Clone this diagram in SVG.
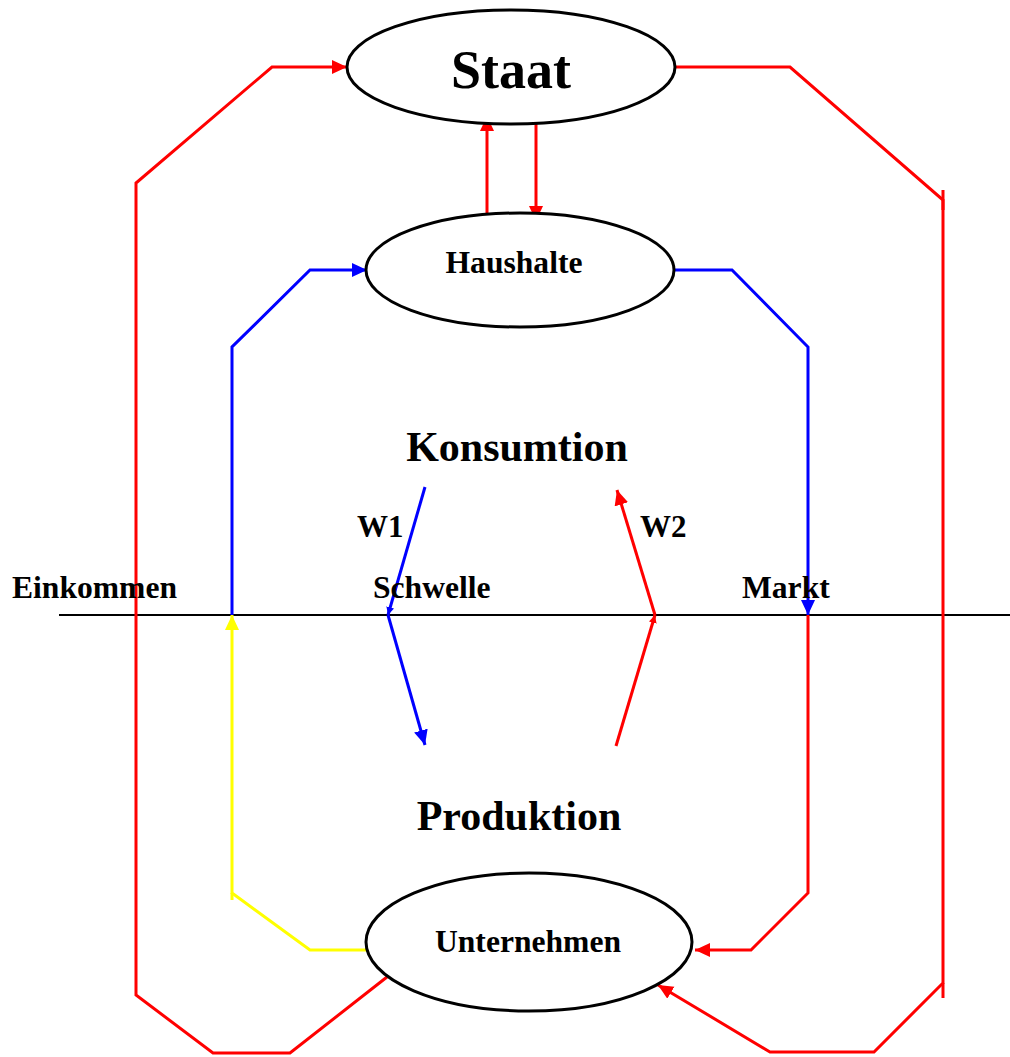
<svg xmlns="http://www.w3.org/2000/svg" width="1010" height="1057" viewBox="0 0 1010 1057">
<defs>
<style>
text{font-family:"Liberation Serif","Times New Roman",serif;font-weight:bold;fill:#000}
.node{fill:#fff;stroke:#000;stroke-width:3}
.r{fill:none;stroke:#f00;stroke-width:3;stroke-linejoin:miter}
.b{fill:none;stroke:#00f;stroke-width:3}
.y{fill:none;stroke:#ff0;stroke-width:3}
</style>
<marker id="ar" markerUnits="userSpaceOnUse" markerWidth="18" markerHeight="16" refX="15" refY="7" orient="auto"><path d="M0,0 L15,7 L0,14 Z" fill="#f00"/></marker>
<marker id="ab" markerUnits="userSpaceOnUse" markerWidth="18" markerHeight="16" refX="15" refY="7" orient="auto"><path d="M0,0 L15,7 L0,14 Z" fill="#00f"/></marker>
<marker id="ay" markerUnits="userSpaceOnUse" markerWidth="18" markerHeight="16" refX="15" refY="7" orient="auto"><path d="M0,0 L15,7 L0,14 Z" fill="#ff0"/></marker>
<marker id="abs" markerUnits="userSpaceOnUse" markerWidth="10" markerHeight="10" refX="8" refY="4" orient="auto"><path d="M0,0 L8,4 L0,8 Z" fill="#00f"/></marker>
<marker id="ars" markerUnits="userSpaceOnUse" markerWidth="10" markerHeight="10" refX="8" refY="4" orient="auto"><path d="M0,0 L8,4 L0,8 Z" fill="#f00"/></marker>
</defs>
<rect width="1010" height="1057" fill="#fff"/>
<line x1="59" y1="615" x2="1010" y2="615" stroke="#000" stroke-width="2"/>
<g id="connectors">
<polyline class="r" points="387,977 290,1053 213,1053 136,995 136,183 272,67 347,67" marker-end="url(#ar)"/>
<polyline class="r" points="675,67 790,67 943,200 943,983 874,1052 770,1052 658,985" marker-end="url(#ar)"/>
<line class="r" x1="943" y1="190" x2="943" y2="210"/>
<line class="r" x1="943" y1="983" x2="943" y2="998"/>
<line class="r" x1="487" y1="213" x2="487" y2="116" marker-end="url(#ar)"/>
<line class="r" x1="536" y1="124" x2="536" y2="221" marker-end="url(#ar)"/>
<polyline class="b" points="232,615 232,347 310,270 367,270" marker-end="url(#ab)"/>
<polyline class="b" points="675,270 732,270 808,347 808,615" marker-end="url(#ab)"/>
<polyline class="y" points="367,950 310,950 232,893 232,615" marker-end="url(#ay)"/>
<line class="y" x1="232" y1="893" x2="232" y2="900"/>
<polyline class="r" points="808,615 808,893 751,950 695,950" marker-end="url(#ar)"/>
<line class="b" x1="425" y1="487" x2="388" y2="615" marker-end="url(#abs)"/>
<line class="b" x1="388" y1="615" x2="425" y2="745" marker-end="url(#ab)"/>
<line class="r" x1="616" y1="746" x2="655" y2="615" marker-end="url(#ars)"/>
<line class="r" x1="655" y1="615" x2="617" y2="490" marker-end="url(#ar)"/>
</g>
<g id="staat">
<ellipse class="node" cx="511" cy="67" rx="164" ry="57"/>
<text x="511" y="88" font-size="54" text-anchor="middle">Staat</text>
</g>
<g id="haushalte">
<ellipse class="node" cx="520" cy="270" rx="154" ry="57"/>
<text x="514" y="273" font-size="31.6" text-anchor="middle">Haushalte</text>
</g>
<g id="unternehmen">
<ellipse class="node" cx="529" cy="942" rx="163" ry="69"/>
<text x="528" y="952" font-size="31.6" text-anchor="middle">Unternehmen</text>
</g>
<g id="labels">
<text x="517" y="461" font-size="42" text-anchor="middle">Konsumtion</text>
<text x="519" y="830" font-size="42" text-anchor="middle">Produktion</text>
<text x="357" y="537" font-size="31">W1</text>
<text x="640" y="537" font-size="31">W2</text>
<text x="12" y="598" font-size="31.6">Einkommen</text>
<text x="373" y="598" font-size="31.6">Schwelle</text>
<text x="742" y="598" font-size="31.6">Markt</text>
</g>
</svg>
